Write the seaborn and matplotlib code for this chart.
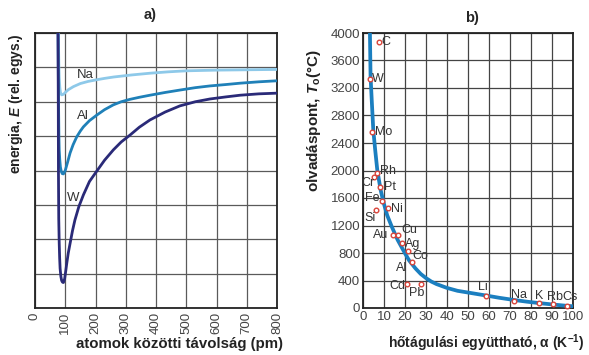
import numpy as np
import pandas as pd
import matplotlib
matplotlib.use("Agg")
import matplotlib.pyplot as plt
import seaborn as sns

# a) potenciális energia görbék (leolvasott pontok)
na_dist = [77, 78, 79, 80, 82, 84, 88, 95, 100, 110, 127, 150, 175, 204, 230, 260, 290, 320,
           380, 440, 500, 600, 700, 800]
na_energy = [8.3, 7.5, 7.0, 6.7, 6.42, 6.28, 6.2, 6.22, 6.27, 6.35, 6.44, 6.53, 6.59, 6.64, 6.68,
             6.72, 6.75, 6.78, 6.83, 6.87, 6.9, 6.92, 6.93, 6.94]

al_dist = [76, 77, 78, 79, 80, 82, 84, 87, 90, 94, 100, 108, 116, 126, 138, 150, 160, 180, 204,
           230, 259, 285, 314, 345, 380, 430, 479, 530, 578, 630, 678, 740, 800]
al_energy = [8.3, 7.0, 5.8, 5.0, 4.6, 4.3, 4.1, 3.97, 3.91, 3.9, 4.0, 4.25, 4.51, 4.75, 4.98,
             5.15, 5.27, 5.45, 5.61, 5.77, 5.91, 6.0, 6.07, 6.13, 6.19, 6.27, 6.34, 6.41, 6.46,
             6.5, 6.54, 6.58, 6.61]

w_dist = [76, 77, 77.5, 78.5, 80, 81.5, 83, 85.5, 88, 91, 94, 98, 102, 105, 110, 116, 124, 132,
          145, 160, 180, 204, 230, 259, 285, 314, 345, 380, 430, 479, 530, 578, 630, 678, 740, 800]
w_energy = [8.3, 6.0, 4.0, 2.6, 1.9, 1.45, 1.15, 0.92, 0.8, 0.75, 0.74, 0.85, 1.1, 1.3, 1.6,
            1.88, 2.25, 2.56, 2.95, 3.29, 3.68, 3.98, 4.3, 4.6, 4.83, 5.03, 5.26, 5.47, 5.7,
            5.88, 6.0, 6.08, 6.14, 6.19, 6.23, 6.25]

# b) olvadáspont vs. hőtágulási együttható
curve_alpha = [3.3, 3.6, 4.2, 4.9, 5.8, 6.8, 8.4, 9.9, 11.5, 13.7, 16.5, 20, 22, 25, 27.5, 30,
               32.5, 35, 40, 45, 50, 58.9, 65, 71.6, 78, 84.3, 90, 97, 100]
curve_temp = [4000, 3365, 3000, 2590, 2300, 2007, 1716, 1523, 1350, 1183, 990, 795, 690, 575,
              495, 435, 385, 348, 292, 250, 225, 180, 148, 118, 92, 70, 52, 32, 25]

elements = ["C", "W", "Mo", "Rh", "Cr", "Pt", "Fe", "Ni", "Si", "Au", "Cu", "Ag",
            "Co", "Al", "Cd", "Pb", "Li", "Na", "K", "Rb", "Cs"]
elem_alpha = [7.5, 3.3, 4.1, 6.9, 5.2, 8.1, 9.0, 12.1, 6.2, 14.1, 16.5, 18.4,
              21.6, 23.5, 21.1, 27.5, 58.4, 71.8, 83.8, 90.3, 97.1]
elem_temp = [3870, 3330, 2565, 1960, 1900, 1765, 1560, 1450, 1425, 1057, 1057, 950,
             833, 670, 345, 353, 175, 100, 78, 58, 30]

sns.set_theme(style="white")
plt.rcParams["font.family"] = ["Liberation Sans", "DejaVu Sans"]
plt.rcParams["mathtext.fontset"] = "custom"
plt.rcParams["mathtext.rm"] = "Liberation Sans:bold"
plt.rcParams["mathtext.it"] = "Liberation Sans:bold:italic"
plt.rcParams["mathtext.bf"] = "Liberation Sans:bold"

fig = plt.figure(figsize=(5.89, 3.55), dpi=100)
ax1 = fig.add_axes([35 / 589, 1 - 308 / 355, 242 / 589, 275 / 355])
ax2 = fig.add_axes([363 / 589, 1 - 308 / 355, 210 / 589, 275 / 355])

text_col = "#333333"

# ---- a) ----
curves = [(na_dist, na_energy, "#8ec9e9"), (al_dist, al_energy, "#1f80b8"), (w_dist, w_energy, "#2a2a78")]
for d, e, col in curves:
    df = pd.DataFrame({"d": d, "E": e})
    sns.lineplot(data=df, x="d", y="E", ax=ax1, color=col, lw=2.0, sort=False, zorder=3)

ax1.set_xlim(0, 800)
ax1.set_ylim(0, 8)
ax1.set_xticks(range(0, 801, 100))
ax1.set_yticks(range(0, 9))
ax1.set_yticklabels([])
ax1.grid(True, color="#5a5a5a", lw=0.9)
ax1.tick_params(axis="x", labelrotation=90, labelsize=9.5, colors="#444444", length=0, pad=3)
ax1.tick_params(axis="y", length=0)
ax1.set_xlabel("")
ax1.set_ylabel("")
for s in ax1.spines.values():
    s.set_color("#222222")
    s.set_linewidth(1.3)

ax1.text(165, 6.78, "Na", fontsize=9.5, color=text_col, ha="center", va="center")
ax1.text(158, 5.59, "Al", fontsize=9.5, color=text_col, ha="center", va="center")
ax1.text(127, 3.19, "W", fontsize=9.5, color=text_col, ha="center", va="center")

# ---- b) ----
sns.lineplot(x=curve_alpha, y=curve_temp, ax=ax2, color="#1b7fc0", lw=2.7, sort=False, zorder=3)
sns.scatterplot(x=elem_alpha, y=elem_temp, ax=ax2, marker="o", s=11, facecolor="white",
                edgecolor="#d9443a", linewidth=1.0, zorder=4, clip_on=False)

ax2.set_xlim(0, 100)
ax2.set_ylim(0, 4000)
ax2.set_xticks(range(0, 101, 10))
ax2.set_yticks(range(0, 4001, 400))
ax2.grid(True, color="#444444", lw=0.9)
ax2.tick_params(labelsize=9.5, colors="#444444", length=0, pad=2)
ax2.set_xlabel("")
ax2.set_ylabel("")
for s in ax2.spines.values():
    s.set_color("#222222")
    s.set_linewidth(1.3)

# címke eltolások pixelben (dx, dy, ha)
label_pos = {
    "C": (3, 0, "left"), "W": (2, 0, "left"), "Mo": (3, 0, "left"), "Rh": (3, 2, "left"),
    "Cr": (1, -6, "right"), "Pt": (4, 0, "left"), "Fe": (-2, 3, "right"), "Ni": (3, -1, "left"),
    "Si": (0, -8, "right"), "Au": (-4, 0, "right"), "Cu": (4, 5, "left"), "Ag": (3, -1, "left"),
    "Co": (4, -5, "left"), "Al": (-5, -6, "right"), "Cd": (-2, -2, "right"), "Pb": (-4, -9, "center"),
    "Li": (-3, 9, "center"), "Na": (5, 6, "center"), "K": (0, 7, "center"), "Rb": (2, 7, "center"),
    "Cs": (3, 9, "center"),
}
for name, a, t in zip(elements, elem_alpha, elem_temp):
    dx, dy, ha = label_pos[name]
    ax2.annotate(name, (a, t), xytext=(dx, dy), textcoords="offset pixels",
                 ha=ha, va="center", fontsize=9, color=text_col, zorder=5)

# címek, tengelyfeliratok
fig.text(150 / 589, 1 - 15 / 355, "a)", fontsize=10.5, fontweight="bold", ha="center", va="center")
fig.text(472 / 589, 1 - 18 / 355, "b)", fontsize=10.5, fontweight="bold", ha="center", va="center")
fig.text(180 / 589, 1 - 344 / 355, "atomok közötti távolság (pm)", fontsize=10.8,
         fontweight="bold", ha="center", va="center", color="#222222")
fig.text(486 / 589, 1 - 343 / 355, r"hőtágulási együttható, α ($\mathrm{K}^{-1}$)", fontsize=10,
         fontweight="bold", ha="center", va="center", color="#222222")
fig.text(16 / 589, 1 - 104 / 355, r"energia, $E$ (rel. egys.)", fontsize=10, fontweight="bold",
         rotation=90, ha="center", va="center", color="#222222")
fig.text(314 / 589, 1 - 120 / 355, r"olvadáspont, $T_\mathrm{o}$(°C)", fontsize=11,
         fontweight="bold", rotation=90, ha="center", va="center", color="#222222")

fig.savefig("out.png", dpi=100)
